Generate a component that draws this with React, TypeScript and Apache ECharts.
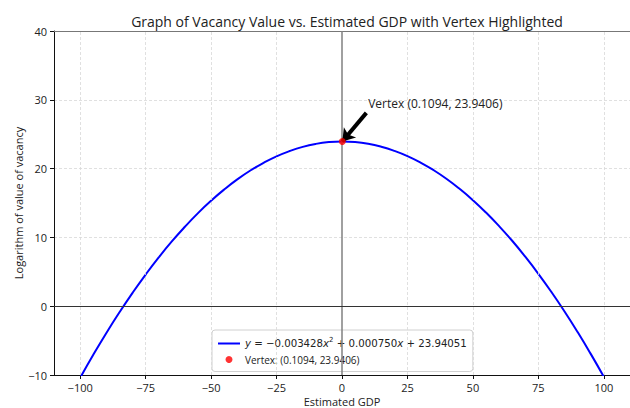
import React, { useEffect, useRef } from "react";
import * as echarts from "echarts";

// Points (x = estimated GDP, y = log of vacancy value)
const curveX = [-100, -95, -90, -85, -80, -75, -70, -65, -60, -55, -50, -45, -40, -35, -30, -25, -20, -15, -10, -5, 0,
  5, 10, 15, 20, 25, 30, 35, 40, 45, 50, 55, 60, 65, 70, 75, 80, 85, 90, 95, 100];
const curveY = [-10.41, -7.07, -3.89, -0.89, 1.94, 4.6, 7.09, 9.41, 11.55, 13.53, 15.33, 16.96, 18.43, 19.72, 20.83, 21.78, 22.55, 23.16, 23.59, 23.85, 23.94,
  23.86, 23.61, 23.18, 22.58, 21.82, 20.88, 19.77, 18.49, 17.03, 15.41, 13.61, 11.64, 9.51, 7.19, 4.71, 2.06, -0.76, -3.76, -6.93, -10.26];
const vertexPoint = [0.1094, 23.9406];
const xTickValues = [-100, -75, -50, -25, 0, 25, 50, 75, 100];
const annotationText = "Vertex (0.1094, 23.9406)";
const annotationAt = [10, 29.5];
const arrowTail = [9.3, 28.1];
const titleText = "Graph of Vacancy Value vs. Estimated GDP with Vertex Highlighted";
const xAxisTitle = "Estimated GDP";
const yAxisTitle = "Logarithm of value of vacancy";
const curveName = "curve";
const vertexName = "vertex";
const vertexLegend = "Vertex: (0.1094, 23.9406)";

const FONT = "Open Sans";

export default function App() {
  const ref = useRef<HTMLDivElement>(null);
  useEffect(() => {
    document.body.style.margin = "0";
    const chart = echarts.init(ref.current!, undefined, { renderer: "svg" });
    const curveData = curveX.map((x, i) => [x, curveY[i]]);
    const neg = (v: number) => (v < 0 ? "−" + Math.abs(v) : String(v));
    chart.setOption({
      animation: false,
      textStyle: { fontFamily: FONT, color: "#222" },
      title: {
        text: titleText,
        left: 342,
        textAlign: "center",
        top: 9,
        textStyle: { fontFamily: FONT, fontSize: 14, fontWeight: "normal", color: "#222" },
      },
      grid: { left: 54, right: 0, top: 31, bottom: 33, outerBoundsMode: "none", containLabel: false },
      legend: {
        orient: "vertical",
        left: 212,
        top: 330,
        padding: [6, 6, 7, 6],
        itemGap: 5,
        itemWidth: 22,
        itemHeight: 7,
        backgroundColor: "rgba(255,255,255,0.85)",
        borderColor: "#d0d0d0",
        borderWidth: 1,
        borderRadius: 3,
        data: [
          { name: curveName, icon: "path://M0,0L22,0L22,2L0,2Z" },
          { name: vertexName, icon: "circle" },
        ],
        formatter: (name: string) =>
          name === curveName
            ? "{i|y} {m|= −0.003428}{i|x}{s|2}{m| + 0.000750}{i|x}{m| + 23.94051}"
            : "{v|" + vertexLegend + "}",
        textStyle: {
          rich: {
            i: { fontFamily: "DejaVu Sans", fontStyle: "italic", fontSize: 10.2, color: "#222", lineHeight: 15 },
            m: { fontFamily: "DejaVu Sans", fontSize: 10.2, color: "#222", lineHeight: 15 },
            s: { fontFamily: "DejaVu Sans", fontSize: 7, color: "#222", lineHeight: 15, verticalAlign: "top" },
            v: { fontFamily: FONT, fontSize: 10, color: "#222", lineHeight: 15 },
          },
        },
      },
      xAxis: [
        {
          type: "value",
          min: -110,
          max: 110,
          interval: 25,
          name: xAxisTitle,
          nameLocation: "middle",
          nameGap: 20,
          nameMoveOverlap: false,
          nameTextStyle: { fontFamily: FONT, fontSize: 11, lineHeight: 12, color: "#222" },
          axisLine: { onZero: false, lineStyle: { color: "#111", width: 1 } },
          axisTick: { show: true, length: 4, lineStyle: { color: "#111" }, customValues: xTickValues },
          axisLabel: { fontFamily: FONT, fontSize: 11, lineHeight: 12, color: "#222", margin: 6, customValues: xTickValues, formatter: neg },
          splitLine: { show: false },
        },
        {
          type: "value",
          position: "top",
          min: -110,
          max: 110,
          axisLine: { show: true, onZero: false, lineStyle: { color: "#777", width: 1 } },
          axisTick: { show: false },
          axisLabel: { show: false },
          splitLine: { show: false },
        },
      ],
      yAxis: {
        type: "value",
        min: -10,
        max: 40,
        interval: 10,
        name: yAxisTitle,
        nameLocation: "middle",
        nameGap: 30,
        nameMoveOverlap: false,
        nameTextStyle: { fontFamily: FONT, fontSize: 11, color: "#222" },
        axisLine: { show: true, onZero: false, lineStyle: { color: "#111", width: 1 } },
        axisTick: { show: true, length: 4, lineStyle: { color: "#111" } },
        axisLabel: { fontFamily: FONT, fontSize: 11, color: "#222", margin: 7, formatter: neg },
        splitLine: { show: true, lineStyle: { color: "#d8d8d8", type: [3, 2], width: 0.8 } },
      },
      series: [
        {
          type: "line",
          name: "gridx",
          data: [],
          markLine: {
            silent: true,
            symbol: "none",
            label: { show: false },
            data: xTickValues.filter((v) => v !== 0).map((v) => ({
              xAxis: v,
              lineStyle: { color: "#d8d8d8", type: [3, 2], width: 0.8 },
            })),
          },
        },
        {
          type: "line",
          name: "axes0",
          data: [],
          markLine: {
            silent: true,
            symbol: "none",
            label: { show: false },
            data: [
              { xAxis: 0, lineStyle: { color: "#808080", type: "solid", width: 1.5 } },
              { yAxis: 0, lineStyle: { color: "#333", type: "solid", width: 1 } },
            ],
          },
        },
        {
          type: "line",
          name: curveName,
          data: curveData,
          smooth: true,
          showSymbol: false,
          lineStyle: { color: "#0000ff", width: 2 },
          itemStyle: { color: "#0000ff" },
          z: 3,
        },
        {
          type: "scatter",
          name: vertexName,
          data: [vertexPoint],
          symbolSize: 7,
          itemStyle: { color: "#ff0000" },
          z: 5,
          markLine: {
            silent: true,
            symbol: ["none", "arrow"],
            symbolSize: 12,
            label: { show: false },
            lineStyle: { color: "#000", type: "solid", width: 4 },
            data: [[{ coord: arrowTail }, { coord: vertexPoint }]],
          },
          markPoint: {
            silent: true,
            symbol: "circle",
            symbolSize: 0,
            data: [{ coord: annotationAt }],
            label: {
              show: true,
              position: "right",
              distance: 0,
              formatter: annotationText,
              fontFamily: FONT,
              fontSize: 12,
              color: "#222",
            },
          },
        },
      ],
    });
    return () => chart.dispose();
  }, []);
  return <div ref={ref} style={{ width: 630, height: 408 }} />;
}
